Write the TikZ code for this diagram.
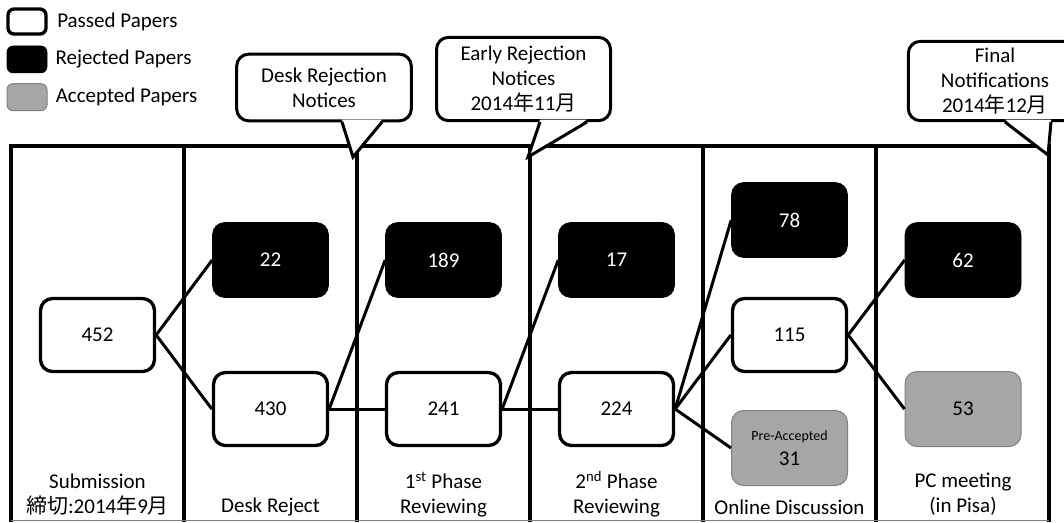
\documentclass[tikz,border=0pt]{standalone}
\usepackage{fontspec}
\setmainfont{Carlito}
\newfontfamily\jafont{Noto Sans CJK JP}
\newcommand{\ja}[1]{{\jafont #1}}
\usetikzlibrary{positioning}

\definecolor{acceptgray}{RGB}{166,166,168}
\definecolor{edgegray}{RGB}{128,128,128}

\begin{document}
\begin{tikzpicture}[
    x=0.75pt, y=-0.75pt,
    font=\fontsize{15.75}{18.75}\selectfont,
    box/.style={rectangle, rounded corners=9pt, inner sep=0pt, align=center},
    passed/.style={box, draw, line width=2.5pt, fill=white, minimum width=85.5pt, minimum height=54.75pt},
    rejected/.style={box, draw=black, fill=black, text=white, minimum width=87pt, minimum height=56.25pt},
    accepted/.style={box, draw=edgegray, line width=0.75pt, fill=acceptgray, minimum width=87pt, minimum height=56.25pt},
    flow/.style={line width=2.25pt},
    divider/.style={line width=3pt},
    note/.style={draw, line width=2.25pt, rounded corners=9pt, fill=white, align=center, inner sep=0pt},
    stage/.style={align=center, inner sep=0pt}
]
    \useasboundingbox (0,0) rectangle (1064,522);

    % Legend
    \node[passed, minimum width=28.5pt, minimum height=18.75pt, rounded corners=4.5pt] (legpass) at (27,21.5) {};
    \node[rejected, minimum width=30pt, minimum height=20.25pt, rounded corners=4.5pt, below=7.5pt of legpass] (legrej) {};
    \node[accepted, minimum width=30pt, minimum height=20.25pt, rounded corners=4.5pt, below=7.5pt of legrej] (legacc) {};
    \node[right=7pt of legpass, inner sep=0pt] {Passed Papers};
    \node[right=6pt of legrej, inner sep=0pt] {Rejected Papers};
    \node[right=6pt of legacc, inner sep=0pt] {Accepted Papers};

    % Table
    \draw[divider] (11,522) -- (11,146) -- (1049,146) -- (1049,522);
    \draw[divider] (184,146) -- (184,522)
                   (357,146) -- (357,522)
                   (530,146) -- (530,522)
                   (703,146) -- (703,522)
                   (876,146) -- (876,522);
    \draw[edgegray, line width=1pt] (11,520.5) -- (1049,520.5);

    % Paper counts
    \node[passed] (submit) at (97.5,335) {452};
    \node[rejected] (deskrej) at (270.5,260) {22};
    \node[passed] (deskpass) at (270.5,409) {430};
    \node[rejected] (firstrej) at (443.5,260) {189};
    \node[passed] (firstpass) at (443.5,409) {241};
    \node[rejected] (secondrej) at (616.5,260) {17};
    \node[passed] (secondpass) at (616.5,409) {224};
    \node[rejected] (onlinerej) at (789.5,220) {78};
    \node[passed] (onlinepass) at (789.5,335) {115};
    \node[accepted] (preacc) at (789.5,448) {{\fontsize{10.5}{12}\selectfont Pre-Accepted}\\31};
    \node[rejected] (pcrej) at (963,260) {62};
    \node[accepted] (pcacc) at (963,409) {53};

    % Flows
    \draw[flow] (submit.east) -- (deskrej.west);
    \draw[flow] (submit.east) -- (deskpass.west);
    \draw[flow] (deskpass.east) -- (firstrej.west);
    \draw[flow] (deskpass.east) -- (firstpass.west);
    \draw[flow] (firstpass.east) -- (secondrej.west);
    \draw[flow] (firstpass.east) -- (secondpass.west);
    \draw[flow] (secondpass.east) -- (onlinerej.west);
    \draw[flow] (secondpass.east) -- (onlinepass.west);
    \draw[flow] (secondpass.east) -- (preacc.west);
    \draw[flow] (onlinepass.east) -- (pcrej.west);
    \draw[flow] (onlinepass.east) -- (pcacc.west);

    % Stage names
    \node[stage] (lblsubmit) at (97.5,494.5) {Submission\\\ja{締切}:2014\ja{年}9\ja{月}};
    \node[stage] (lbldesk) at (270.5,507) {Desk Reject};
    \node[stage] (lblfirst) at (443.5,494.5) {1\textsuperscript{st} Phase\\Reviewing};
    \node[stage] (lblsecond) at (616.5,494.5) {2\textsuperscript{nd} Phase\\Reviewing};
    \node[stage] (lblonline) at (789.5,507) {Online Discussion};
    \node[stage] (lblpc) at (963,494.5) {PC meeting\\(in Pisa)};

    % Notices
    \node[note, minimum width=131pt, minimum height=50pt] (desknote) at (324,87.5) {Desk Rejection\\Notices};
    \fill[white] (342,119.5) -- (382,119.5) -- (353,157) -- cycle;
    \draw[line width=2.25pt, line join=miter] (342,122) -- (353,157) -- (382,122);

    \node[note, minimum width=130.5pt, minimum height=62.5pt] (earlynote) at (523.5,79) {Early Rejection\\Notices\\2014\ja{年}11\ja{月}};
    \fill[white] (540,119.5) -- (587,119.5) -- (528,157) -- cycle;
    \draw[line width=2.25pt, line join=miter] (540,122) -- (528,157) -- (587,122);

    \node[note, minimum width=130pt, minimum height=59.5pt] (finalnote) at (995,81) {Final\\Notifications\\2014\ja{年}12\ja{月}};
    \fill[white] (1005,119.5) -- (1051,119.5) -- (1048,155) -- cycle;
    \draw[line width=2.25pt, line join=miter] (1005,122) -- (1048,155) -- (1051,122);

\end{tikzpicture}
\end{document}
